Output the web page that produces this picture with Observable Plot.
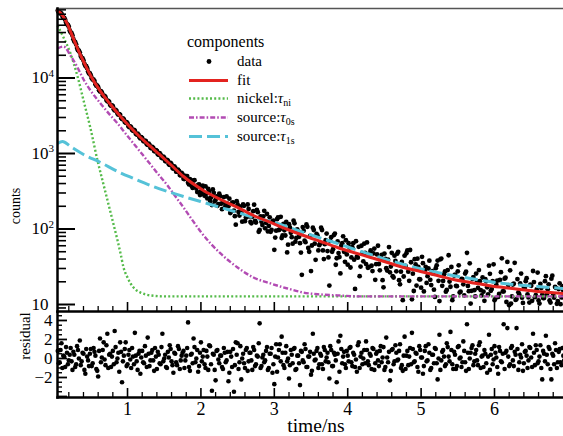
<!DOCTYPE html>
<html><head><meta charset="utf-8">
<script src="https://cdn.jsdelivr.net/npm/d3@7"></script>
<script src="https://cdn.jsdelivr.net/npm/@observablehq/plot@0.6"></script>
<style>
body{margin:0;background:#fff;}
#chart{position:relative;width:563px;height:436px;overflow:hidden;background:#fff;}
#chart svg{display:block;}
</style></head><body><div id="chart"></div>
<script>
// ---------- data ----------
// bins, first half
const timeA = [
0.05,0.075,0.1,0.125,0.15,0.175,0.2,0.225,
0.25,0.275,0.3,0.325,0.35,0.375,0.4,0.425,
0.45,0.475,0.5,0.525,0.55,0.575,0.6,0.625,
0.65,0.675,0.7,0.725,0.75,0.775,0.8,0.825,
0.85,0.875,0.9,0.925,0.95,0.975,1,1.025,
1.05,1.075,1.1,1.125,1.15,1.175,1.2,1.225,
1.25,1.275,1.3,1.325,1.35,1.375,1.4,1.425,
1.45,1.475,1.5,1.525,1.55,1.575,1.6,1.625,
1.65,1.675,1.7,1.725,1.75,1.775,1.8,1.825,
1.85,1.875,1.9,1.925,1.95,1.975,2,2.025,
2.05,2.075,2.1,2.125,2.15,2.175,2.2,2.225,
2.25,2.275,2.3,2.325,2.35,2.375,2.4,2.425,
2.45,2.475,2.5,2.525,2.55,2.575,2.6,2.625,
2.65,2.675,2.7,2.725,2.75,2.775,2.8,2.825,
2.85,2.875,2.9,2.925,2.95,2.975,3,3.025,
3.05,3.075,3.1,3.125,3.15,3.175,3.2,3.225,
3.25,3.275,3.3,3.325,3.35,3.375,3.4,3.425,
3.45,3.475,3.5,3.525,3.55,3.575,3.6,3.625,
3.65,3.675,3.7,3.725,3.75,3.775,3.8,3.825,
3.85,3.875,3.9,3.925,3.95,3.975,4,4.025,
4.05,4.075,4.1,4.125,4.15,4.175,4.2,4.225,
4.25,4.275,4.3,4.325,4.35,4.375,4.4,4.425,
4.45,4.475,4.5,4.525,4.55,4.575,4.6,4.625,
4.65,4.675,4.7,4.725,4.75,4.775,4.8,4.825,
4.85,4.875,4.9,4.925,4.95,4.975,5,5.025,
5.05,5.075,5.1,5.125,5.15,5.175,5.2,5.225,
5.25,5.275,5.3,5.325,5.35,5.375,5.4,5.425,
5.45,5.475,5.5,5.525,5.55,5.575,5.6,5.625,
5.65,5.675,5.7,5.725,5.75,5.775,5.8,5.825,
5.85,5.875,5.9,5.925,5.95,5.975,6,6.025,
6.05,6.075,6.1,6.125,6.15,6.175,6.2,6.225,
6.25,6.275,6.3,6.325,6.35,6.375,6.4,6.425,
6.45,6.475,6.5,6.525,6.55,6.575,6.6,6.625,
6.65,6.675,6.7,6.725,6.75,6.775,6.8,6.825,
6.85,6.875,6.9,6.925,6.95];

const countsA = [
78500,71800,71400,63200,59200,51400,47800,40300,
36600,30500,27800,23300,21700,18500,17100,14500,
13500,11500,10800,9550,9100,7910,7570,6640,
6460,5740,5560,4910,4810,4280,4230,3720,
3660,3270,3240,2860,2830,2550,2510,2230,
2210,2000,2000,1780,1770,1585,1600,1445,
1452,1300,1300,1172,1189,1069,1079,959,
968,863,879,787,802,705,716,630,
649,575,590,512,530,459,490,410,
459,368,439,362,308,390,312,374,
275,292,339,235,208,301,243,203,
293,216,224,193,270,200,163,221,
175,114,211,151,166,212,127,144,
184,124,145,210,122,167,97,125,
147,102,158,110,92,126,53,95,
142,99,76,117,82,49,116,89,
64,119,76,92,65,24.7,95,67,
107,50,27.7,104,64,86,52,65,
97,40,71,51,17.8,78,54,87,
41,48,25.8,65,50,71,33.7,57,
42,65,16.1,43,58,31.8,48,64,
34.3,30.7,47.7,32.6,47.5,21.2,46.0,34.4,
40.6,21.0,47.2,30.3,39.2,26.7,48.3,22.8,
37.7,47.2,21.0,27.2,11.4,44.4,47.9,27.2,
52.7,11.7,15.1,34.0,40.4,21.6,16.7,35.3,
28.2,19.3,30.1,21.2,27.6,15.7,30.3,38.2,
11.1,40.6,20.5,27.4,15.6,44.9,17.2,11.4,
24.2,17.7,27.5,14.4,21.8,18.5,25.7,48.3,
15.0,10.3,21.8,15.5,25.7,16.6,20.4,13.2,
14.8,21.7,16.9,32.7,15.2,20.4,11.4,18.3,
12.6,21.1,40.9,14.9,22.6,36.6,9.8,10.3,
18.4,35.6,11.8,14.5,19.0,12.3,17.1,20.4,
13.6,10.6,17.7,27.8,12.5,15.8,11.3,18.8,
13.4,12.2,23.7,15.9,11.3,22.0,13.5,17.1,
10.2,16.0,10.1,17.4,12.7];

const residualA = [
0.8,-0.4,1.6,0.3,-0.9,0.6,-0.2,1.1,
-1.2,0.4,-0.6,0.9,1.9,-0.3,0.5,-1.6,
0.2,-0.8,1.0,-0.5,0.7,-1.1,-1.9,2.1,
0.1,1.7,-0.7,2.6,0.4,-0.9,0.8,2.9,
-0.4,0.6,1.7,-2.5,0.3,1.7,-0.6,0.9,
-1.0,0.2,2.7,-0.3,0.5,-1.6,0.8,-0.5,
0.3,2.2,-0.8,0.6,-0.2,1.1,-1.1,0.4,
-0.6,2.6,0.0,-0.9,0.7,1.4,-0.3,-1.5,
0.5,-0.7,1.0,-0.2,0.6,-1.0,0.3,3.8,
-1.3,0.5,2.1,-0.4,0.9,-0.8,1.7,0.2,
-0.6,0.8,-1.2,1.3,-3.4,0.4,-2.3,0.9,
-0.5,0.3,-1.1,0.6,-0.2,-2.4,0.7,-0.9,
-3.5,1.7,1.6,-0.4,-2.2,0.5,-1.0,1.1,
-0.3,0.6,-1.2,0.9,-0.6,0.2,3.7,-0.8,
0.4,-0.2,1.2,-1.0,0.5,-1.5,-2.7,1.5,
0.1,1.5,2.3,-0.7,0.6,-0.3,-2.1,0.9,
-0.5,1.1,-1.1,0.3,-2.8,0.7,-0.4,1.0,
-0.9,0.2,-1.7,2.6,-0.2,0.8,-1.0,0.5,
-0.6,1.2,-0.3,0.6,-2.1,0.9,-0.8,0.4,
-2.5,1.8,2.4,-0.5,0.7,-1.0,0.3,1.1,
-0.4,0.6,-0.9,-1.4,1.7,0.2,-0.6,0.9,
1.8,-0.3,0.5,-1.1,1.0,-0.5,0.7,-0.8,
1.3,0.1,-1.2,2.2,-0.4,-2.3,0.9,-0.6,
1.4,-0.2,0.8,-1.0,-1.3,2.3,0.3,-0.7,
1.1,2.7,-0.4,0.6,-0.9,1.3,0.1,-1.6,
0.8,-0.3,1.5,-1.2,0.4,-0.5,1.0,-2.2,
2.5,-0.2,0.9,-0.8,1.6,0.2,2.8,-0.6,
0.7,-1.1,1.2,0.0,-0.9,1.8,-0.4,3.6,
-1.1,0.6,1.4,-0.3,0.9,-0.7,1.7,0.2,
-0.9,0.5,-1.5,2.5,0.4,-0.6,1.3,0.1,
-1.6,0.8,-0.4,3.6,0.6,3.2,-0.8,1.1,
-0.2,0.7,3.2,-1.2,0.4,1.5,-0.5,0.8,
-1.0,1.2,0.1,2.6,-0.7,0.9,-0.3,1.4,
-2.2,0.5,2.4,-0.6,1.0,-2.2,0.3,1.6,
-1.0,0.7,-0.4,1.1,-0.2];

// bins, second half (interleaved)
const timeB = [
0.0625,0.0875,0.1125,0.1375,0.1625,0.1875,0.2125,0.2375,
0.2625,0.2875,0.3125,0.3375,0.3625,0.3875,0.4125,0.4375,
0.4625,0.4875,0.5125,0.5375,0.5625,0.5875,0.6125,0.6375,
0.6625,0.6875,0.7125,0.7375,0.7625,0.7875,0.8125,0.8375,
0.8625,0.8875,0.9125,0.9375,0.9625,0.9875,1.0125,1.0375,
1.0625,1.0875,1.1125,1.1375,1.1625,1.1875,1.2125,1.2375,
1.2625,1.2875,1.3125,1.3375,1.3625,1.3875,1.4125,1.4375,
1.4625,1.4875,1.5125,1.5375,1.5625,1.5875,1.6125,1.6375,
1.6625,1.6875,1.7125,1.7375,1.7625,1.7875,1.8125,1.8375,
1.8625,1.8875,1.9125,1.9375,1.9625,1.9875,2.0125,2.0375,
2.0625,2.0875,2.1125,2.1375,2.1625,2.1875,2.2125,2.2375,
2.2625,2.2875,2.3125,2.3375,2.3625,2.3875,2.4125,2.4375,
2.4625,2.4875,2.5125,2.5375,2.5625,2.5875,2.6125,2.6375,
2.6625,2.6875,2.7125,2.7375,2.7625,2.7875,2.8125,2.8375,
2.8625,2.8875,2.9125,2.9375,2.9625,2.9875,3.0125,3.0375,
3.0625,3.0875,3.1125,3.1375,3.1625,3.1875,3.2125,3.2375,
3.2625,3.2875,3.3125,3.3375,3.3625,3.3875,3.4125,3.4375,
3.4625,3.4875,3.5125,3.5375,3.5625,3.5875,3.6125,3.6375,
3.6625,3.6875,3.7125,3.7375,3.7625,3.7875,3.8125,3.8375,
3.8625,3.8875,3.9125,3.9375,3.9625,3.9875,4.0125,4.0375,
4.0625,4.0875,4.1125,4.1375,4.1625,4.1875,4.2125,4.2375,
4.2625,4.2875,4.3125,4.3375,4.3625,4.3875,4.4125,4.4375,
4.4625,4.4875,4.5125,4.5375,4.5625,4.5875,4.6125,4.6375,
4.6625,4.6875,4.7125,4.7375,4.7625,4.7875,4.8125,4.8375,
4.8625,4.8875,4.9125,4.9375,4.9625,4.9875,5.0125,5.0375,
5.0625,5.0875,5.1125,5.1375,5.1625,5.1875,5.2125,5.2375,
5.2625,5.2875,5.3125,5.3375,5.3625,5.3875,5.4125,5.4375,
5.4625,5.4875,5.5125,5.5375,5.5625,5.5875,5.6125,5.6375,
5.6625,5.6875,5.7125,5.7375,5.7625,5.7875,5.8125,5.8375,
5.8625,5.8875,5.9125,5.9375,5.9625,5.9875,6.0125,6.0375,
6.0625,6.0875,6.1125,6.1375,6.1625,6.1875,6.2125,6.2375,
6.2625,6.2875,6.3125,6.3375,6.3625,6.3875,6.4125,6.4375,
6.4625,6.4875,6.5125,6.5375,6.5625,6.5875,6.6125,6.6375,
6.6625,6.6875,6.7125,6.7375,6.7625,6.7875,6.8125,6.8375,
6.8625,6.8875,6.9125,6.9375];

const countsB = [
74100,73100,66100,62700,54200,50600,42700,39200,
32700,29900,24900,23000,19500,18200,15400,14300,
12200,11500,9930,9510,8280,7940,6900,6680,
5920,5790,5120,4980,4410,4330,3850,3790,
3380,3330,2950,2920,2620,2600,2300,2290,
2050,2050,1820,1830,1640,1650,1470,1480,
1330,1350,1190,1220,1080,1110,977,1007,
881,906,793,822,719,748,643,673,
574,609,518,552,463,506,502,390,
438,350,443,344,385,282,347,288,
367,254,314,262,334,232,270,213,
272,183,265,202,216,252,170,225,
148,234,168,197,125,203,142,211,
147,119,172,128,179,92,147,113,
174,121,93,143,97,129,77,135,
97,145,82,96,124,62,105,78,
129,68,99,79,48.8,106,70,115,
56,81,60.5,97,39.1,82,61,104,
52,63,87,42,69.5,50,83,33.6,
68.4,42.5,60,80,36.7,46.1,65,30.9,
57.5,39.3,68.9,41.7,23.7,60,37.3,48.3,
66.4,31.4,51.9,27.7,55,34.2,60,28.4,
45.5,16.9,40.2,28.2,57.7,31.8,23.7,44.3,
27.5,49.8,18.5,36.6,23.5,32.4,52,20.6,
36.3,25.6,39.9,17.8,31.4,21.5,42.8,14.9,
31.6,23.7,38.1,18.1,25.8,12.6,33.0,20.6,
39.7,17.7,25.2,14.8,28.6,20.1,31.4,12.8,
24.8,17.5,33.0,14.8,21.7,13.2,27.2,17.6,
35.1,15.2,23.1,12.8,20.0,28.6,15.5,22.8,
11.2,20.3,13.6,25.5,16.0,34.1,12.0,20.7,
13.8,26.8,14.9,22.0,10.8,18.1,28.4,12.8,
18.9,11.5,21.7,13.6,25.7,10.5,16.6,22.3,
12.4,18.3,11.2,19.8,13.3,26.5,10.3,16.6,
12.2,20.4,13.7,18.5,10.6,24.1,12.3,16.6,
11.1,19.1,12.4,15.3];

const residualB = [
-0.5,0.9,-1.0,0.2,1.2,-0.6,0.4,-0.3,
0.7,-0.9,1.3,0.0,-0.7,0.6,-1.2,1.0,
-0.2,0.5,-0.8,1.1,0.3,-1.3,0.8,-0.4,
0.9,-0.1,1.4,-1.0,0.5,0.2,-0.6,1.2,
0.0,-1.4,0.7,-0.3,1.0,-0.8,0.4,-0.1,
1.1,-0.6,0.3,-1.2,0.8,0.1,-0.4,1.3,
-0.9,0.5,-0.2,0.9,-1.3,0.2,0.7,-0.5,
1.2,-0.3,0.4,-1.0,0.1,1.0,-0.7,0.6,
-0.4,1.3,-1.1,0.3,0.8,-0.2,1.1,-0.9,
0.4,-0.5,1.2,0.0,-1.4,0.6,-0.3,0.9,
-1.0,0.2,1.4,-0.6,0.5,-1.2,0.8,-0.1,
0.3,-0.9,1.1,-0.4,0.7,-1.5,0.2,1.0,
-0.7,0.4,-1.1,1.3,0.0,-0.5,0.9,-1.3,
0.6,-0.2,1.2,-0.8,0.3,1.6,-1.0,0.1,
-0.4,0.8,-1.2,0.5,1.1,-0.6,0.2,-1.4,
0.9,-0.3,0.6,-1.0,1.3,0.0,-0.7,0.4,
1.0,-1.2,0.3,-0.5,0.8,-0.2,1.5,-0.9,
0.2,0.7,-1.3,0.5,-0.1,1.1,-0.6,0.3,
-1.1,0.9,0.1,-0.4,1.3,-0.8,0.6,-0.2,
0.5,-1.4,1.0,0.2,-0.6,0.8,-0.3,1.2,
-0.8,0.4,-0.1,1.4,-1.0,0.6,0.0,-0.5,
0.9,-0.7,0.3,1.1,-1.2,0.5,-0.2,0.8,
-0.4,1.2,-0.9,0.1,0.7,-1.3,1.0,-0.3,
0.6,-0.1,1.5,-0.7,0.3,-1.1,0.8,0.2,
-0.6,1.0,-0.3,0.5,-1.4,0.9,0.1,-0.8,
1.3,-0.2,0.6,-1.0,0.4,1.1,-0.5,0.0,
-1.2,0.7,0.2,-0.6,1.2,-0.3,0.9,-1.1,
0.4,-0.8,1.3,0.1,-0.4,0.8,-1.3,0.6,
0.0,1.1,-0.7,0.5,-0.2,1.4,-1.0,0.3,
0.9,-0.5,0.2,-1.2,1.0,-0.1,0.6,-0.9,
1.2,-0.3,0.5,-1.1,0.8,0.2,-0.6,1.3,
-0.8,0.4,1.0,-0.4,0.1,-1.3,0.7,0.3,
-0.2,1.1,-0.9,0.6,1.4,-0.5,0.2,-1.0,
0.8,-0.3,0.4,1.2,-1.1,0.5,-0.6,0.9,
-0.4,1.0,-0.7,0.3];

// fit and components
const fitTime = [0.046,0.114,0.183,0.251,0.332,0.414,0.496,0.632,0.768,0.905,1.041,1.177,1.313,1.45,1.586,1.763,2.035,2.267,2.499,2.717,2.948,3.18,3.398,3.629,3.861,4.079,4.311,4.542,4.76,4.992,5.223,5.441,5.673,5.905,6.123,6.354,6.586,6.763,6.94];
const fitCounts = [78300,67300,51200,35500,23100,15600,10800,6630,4460,3090,2210,1630,1240,942,715,496,324,246,193,151,122,98.5,82,68.3,56.9,48.9,42.0,36.0,30.9,27.4,24.2,21.4,19.6,17.9,16.8,15.8,14.9,14.4,14.0];

const nickelTime = [0.046,0.128,0.223,0.319,0.401,0.496,0.591,0.659,0.728,0.796,0.864,0.905,0.946,1.0,1.041,1.109,1.177,1.313,1.518,2,3,4,5,6,6.94];
const nickelCounts = [49600,34400,21100,10470,5040,2140,807,439,238,130,70.4,47.4,30.9,22.8,19.0,15.8,14.4,13.2,12.8,12.8,12.8,12.8,12.8,12.8,12.8];

const source0Time = [0.046,0.128,0.223,0.319,0.401,0.496,0.632,0.768,0.864,0.973,1.082,1.204,1.313,1.422,1.545,1.654,1.763,1.886,1.995,2.131,2.267,2.499,2.717,2.948,3.18,3.398,3.629,3.861,4.174,4.719,6.94];
const source0Counts = [24600,26100,19860,13770,9550,6830,4590,3190,2500,1840,1357,970,715,527,377,269,193,130,92.7,64.3,47.4,30.9,22.8,19.0,16.3,14.4,13.6,13.2,12.8,12.8,12.8];

const source1Time = [0.046,0.114,0.223,0.401,0.632,0.864,1.082,1.313,1.545,1.763,1.995,2.267,2.499,2.717,2.948,3.398,3.861,4.311,4.76,5.223,5.673,6.123,6.586,6.94];
const source1Counts = [1357,1442,1239,970,760,578,467,377,314,269,231,193,166,142,126,89.9,64.3,45.9,33.9,26.5,22.1,19.0,17.3,16.3];

// tick values
const yMajorTicks = [10, 100, 1000, 10000];
const yExpTicks = [100, 1000, 10000];
const yExpLabels = ["2", "3", "4"];
const yMinorTicks = [9,20,30,40,50,60,70,80,90,200,300,400,500,600,700,800,900,2000,3000,4000,5000,6000,7000,8000,9000,20000,30000,40000,50000,60000,70000,80000];
const xMajorTicks = [1, 2, 3, 4, 5, 6];
const xMinorTicks = [0.2,0.4,0.6,0.8,1.2,1.4,1.6,1.8,2.2,2.4,2.6,2.8,3.2,3.4,3.6,3.8,4.2,4.4,4.6,4.8,5.2,5.4,5.6,5.8,6.2,6.4,6.6,6.8];
const rMajorTicks = [-4, -2, 0, 2, 4];
const rLabelTicks = [-2, 0, 2, 4];
const rMinorTicks = [-3.5,-3,-2.5,-1.5,-1,-0.5,0.5,1,1.5,2.5,3,3.5,4.5];

// ---------- tables ----------
const data = [
  ...timeA.map((t, i) => ({t, c: countsA[i], r: residualA[i]})),
  ...timeB.map((t, i) => ({t, c: countsB[i], r: residualB[i]}))
];
const toRows = (ts, cs) => ts.map((t, i) => ({t, c: cs[i]}));
const fit = toRows(fitTime, fitCounts);
const nickel = toRows(nickelTime, nickelCounts);
const source0 = toRows(source0Time, source0Counts);
const source1 = toRows(source1Time, source1Counts);

const FONT = "'Liberation Serif', 'DejaVu Serif', serif";
const RED = "#e3231f", GREEN = "#55bb4a", PURPLE = "#b24bb3", CYAN = "#55c2d8";
const W = 563, ML = 57;
const xDomain = [0.046, 6.94];
const plotW = W - ML;

// ---------- top panel ----------
const topH = 312, topMT = 8, topMB = 1, topInner = topH - topMT - topMB;
const topPlot = Plot.plot({
  width: W, height: topH, marginTop: topMT, marginBottom: topMB, marginLeft: ML, marginRight: 0,
  style: {fontFamily: FONT, background: "white", color: "black", overflow: "visible"},
  x: {domain: xDomain, axis: null},
  y: {type: "log", domain: [8.08, 83260], axis: null},
  marks: [
    Plot.dot(data, {x: "t", y: "c", r: 2.4, fill: "black"}),
    Plot.line(nickel, {x: "t", y: "c", stroke: GREEN, strokeWidth: 2.4, strokeDasharray: "2,2.2", strokeLinecap: "butt", curve: "monotone-x"}),
    Plot.line(source0, {x: "t", y: "c", stroke: PURPLE, strokeWidth: 2.4, strokeDasharray: "5,2,1.6,2", strokeLinecap: "butt", curve: "monotone-x"}),
    Plot.line(source1, {x: "t", y: "c", stroke: CYAN, strokeWidth: 3, strokeDasharray: "13,5", strokeLinecap: "butt", curve: "monotone-x"}),
    Plot.line(fit, {x: "t", y: "c", stroke: RED, strokeWidth: 3, curve: "monotone-x"}),
    Plot.tickY(yMajorTicks, {y: d => d, stroke: "black", strokeWidth: 2, insetRight: plotW - 18}),
    Plot.tickY(yMinorTicks, {y: d => d, stroke: "black", strokeWidth: 1.6, insetRight: plotW - 9}),
    Plot.tickX(xMajorTicks, {x: d => d, stroke: "black", strokeWidth: 1.6, insetTop: topInner - 9}),
    Plot.tickX(xMinorTicks, {x: d => d, stroke: "black", strokeWidth: 1.3, insetTop: topInner - 5}),
    Plot.axisY(yMajorTicks, {anchor: "left", tickSize: 0, tickPadding: 9, tickFormat: () => "10", fontSize: 17, label: null}),
    Plot.text(yExpTicks, {y: d => d, text: (d, i) => yExpLabels[i], frameAnchor: "left", dx: -9, dy: -5, textAnchor: "start", fontSize: 11, fill: "black"}),
    Plot.frame({anchor: "top", stroke: "#555", strokeWidth: 1.6}),
    Plot.frame({anchor: "left", stroke: "black", strokeWidth: 2.5}),
    Plot.frame({anchor: "bottom", stroke: "black", strokeWidth: 2.5})
  ]
});

// ---------- bottom panel ----------
const botH = 124, botMB = 39, botInner = botH - botMB;
const botPlot = Plot.plot({
  width: W, height: botH, marginTop: 0, marginBottom: botMB, marginLeft: ML, marginRight: 0,
  style: {fontFamily: FONT, background: "white", color: "black", overflow: "visible"},
  x: {domain: xDomain, axis: null},
  y: {domain: [-4.105, 4.84], axis: null},
  marks: [
    Plot.dot(data, {x: "t", y: "r", r: 2.3, fill: "black"}),
    Plot.tickY(rMajorTicks, {y: d => d, stroke: "black", strokeWidth: 1.8, insetRight: plotW - 10}),
    Plot.tickY(rMinorTicks, {y: d => d, stroke: "black", strokeWidth: 1.4, insetRight: plotW - 5}),
    Plot.tickX(xMajorTicks, {x: d => d, stroke: "black", strokeWidth: 1.6, insetTop: botInner - 9}),
    Plot.tickX(xMinorTicks, {x: d => d, stroke: "black", strokeWidth: 1.3, insetTop: botInner - 5}),
    Plot.axisY(rLabelTicks, {anchor: "left", tickSize: 0, tickPadding: 5, fontSize: 17, label: null,
      tickFormat: d => d < 0 ? "\u2212" + Math.abs(d) : String(d)}),
    Plot.axisX(xMajorTicks, {anchor: "bottom", tickSize: 0, tickPadding: 5, fontSize: 18, label: null}),
    Plot.frame({anchor: "left", stroke: "black", strokeWidth: 2.5}),
    Plot.frame({anchor: "bottom", stroke: "black", strokeWidth: 2.5})
  ]
});

const chart = document.getElementById("chart");
chart.appendChild(topPlot);
chart.appendChild(botPlot);

// ---------- overlay: legend and axis titles ----------
const ov = d3.select(chart).append("svg")
  .attr("width", W).attr("height", 436)
  .style("position", "absolute").style("left", "0px").style("top", "0px")
  .attr("font-family", FONT).attr("fill", "black");

ov.append("text").attr("x", 187).attr("y", 47).attr("font-size", 16).text("components");

const legendItems = [
  {kind: "dot", y: 66, text: "data"},
  {kind: "line", y: 85, text: "fit", stroke: RED, width: 3, dash: null},
  {kind: "line", y: 103, text: "nickel:", sub: "ni", stroke: GREEN, width: 2.4, dash: "2,2.2"},
  {kind: "line", y: 122, text: "source:", sub: "0s", stroke: PURPLE, width: 2.4, dash: "5,2,1.6,2"},
  {kind: "line", y: 141, text: "source:", sub: "1s", stroke: CYAN, width: 3, dash: "13,5"}
];
for (const it of legendItems) {
  const cy = it.y - 4.5;
  if (it.kind === "dot") {
    ov.append("circle").attr("cx", 209).attr("cy", cy).attr("r", 2.4).attr("fill", "black");
  } else {
    const l = ov.append("line").attr("x1", 189).attr("x2", 228).attr("y1", cy).attr("y2", cy)
      .attr("stroke", it.stroke).attr("stroke-width", it.width);
    if (it.dash) l.attr("stroke-dasharray", it.dash);
  }
  const tx = ov.append("text").attr("x", 237).attr("y", it.y).attr("font-size", 15);
  tx.append("tspan").text(it.text);
  if (it.sub) {
    tx.append("tspan").attr("font-style", "italic").text("\u03c4");
    tx.append("tspan").attr("font-size", 10).attr("dy", 3).text(it.sub);
  }
}

ov.append("text").attr("transform", "translate(20,206) rotate(-90)")
  .attr("text-anchor", "middle").attr("font-size", 14).text("counts");
ov.append("text").attr("transform", "translate(30,336) rotate(-90)")
  .attr("text-anchor", "middle").attr("font-size", 15).text("residual");
ov.append("text").attr("x", 316).attr("y", 432)
  .attr("text-anchor", "middle").attr("font-size", 19.5).text("time/ns");
</script></body></html>
